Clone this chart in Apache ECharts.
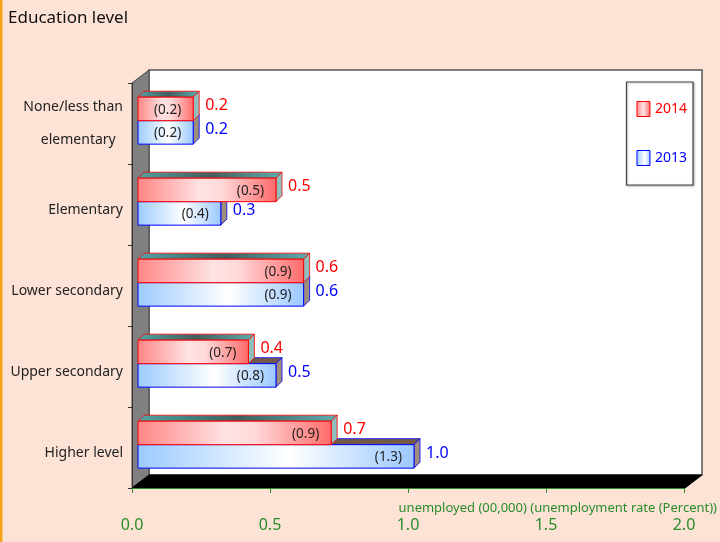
<!DOCTYPE html>
<html><head><meta charset="utf-8">
<script src="https://cdn.jsdelivr.net/npm/echarts@6/dist/echarts.min.js"></script>
<style>html,body{margin:0;padding:0;background:#fde3d6;}#c{width:720px;height:542px;}</style>
</head><body><div id="c"></div>
<script>
const categories = ['Higher level','Upper secondary','Lower secondary','Elementary','None/less than\nelementary  '];
const unemployed2014 = [0.7, 0.4, 0.6, 0.5, 0.2];
const rate2014 = [0.9, 0.7, 0.9, 0.5, 0.2];
const unemployed2013 = [1.0, 0.5, 0.6, 0.3, 0.2];
const rate2013 = [1.3, 0.8, 0.9, 0.4, 0.2];
const xTicks = {min: 0, max: 2, interval: 0.5};

const FONT = 'Noto Sans';
const GL = 132, GR = 685, GT = 83, GB = 488; // grid edges
const WX = 17, WY = 13; // wall depth
const D = 6; // bar depth
const LG = echarts.graphic.LinearGradient;

const styles = {
  '2014': {
    front: () => new LG(0,0,1,0,[{offset:0,color:'#ff8585'},{offset:0.45,color:'#ffe2e2'},{offset:0.6,color:'#ffdada'},{offset:1,color:'#ff6a6a'}]),
    top: () => new LG(0,0,1,0,[{offset:0,color:'#4fa3a3'},{offset:0.5,color:'#415e5e'},{offset:1,color:'#5aaeae'}]),
    side: '#8fbfbf', stroke: '#ff0000', text: '#ff0000', upper: true
  },
  '2013': {
    front: () => new LG(0,0,1,0,[{offset:0,color:'#9ccbff'},{offset:0.55,color:'#ffffff'},{offset:1,color:'#9ac8ff'}]),
    top: () => new LG(0,0,1,0,[{offset:0,color:'#735a48'},{offset:1,color:'#735a48'}]),
    side: '#a08e7c', stroke: '#0000ff', text: '#0000ff', upper: false
  }
};

function makeRender(key) {
  const s = styles[key];
  return function(params, api) {
    const v = api.value(0), cat = api.value(1), r = api.value(2);
    const p0 = api.coord([0, cat]);
    const p1 = api.coord([v, cat]);
    const band = api.size([0, 1])[1];
    const h = band * 0.29;
    const cy = p0[1] - band * 0.035;
    const yTop = s.upper ? cy - h : cy;
    const x0 = p0[0] + D, x1 = p1[0] + D;
    return {
      type: 'group',
      children: [
        {type:'polygon', shape:{points:[[x0,yTop],[x0+D,yTop-D],[x1+D,yTop-D],[x1,yTop]]},
          style:{fill:s.top(), stroke:s.stroke, lineWidth:0.8}},
        {type:'polygon', shape:{points:[[x1,yTop],[x1+D,yTop-D],[x1+D,yTop+h-D],[x1,yTop+h]]},
          style:{fill:s.side, stroke:s.stroke, lineWidth:0.8}},
        {type:'rect', shape:{x:x0, y:yTop, width:x1-x0, height:h},
          style:{fill:s.front(), stroke:s.stroke, lineWidth:1}},
        {type:'text', style:{text:'(' + r.toFixed(1) + ')', x:x1-12, y:yTop+h/2+1, align:'right', verticalAlign:'middle',
          fill:'#222', font:'13.5px "' + FONT + '"'}},
        {type:'text', style:{text:v.toFixed(1), x:x1+D+6, y:yTop+h/2-3, align:'left', verticalAlign:'middle',
          fill:s.text, font:'16px "' + FONT + '"'}}
      ]
    };
  };
}

const catData = categories.map((c, i) => i === categories.length - 1
  ? {value: c, textStyle: {verticalAlign: 'middle', lineHeight: 33}}
  : c);

const chart = echarts.init(document.getElementById('c'));
chart.setOption({
  backgroundColor: '#fde3d6',
  animation: false,
  textStyle: {fontFamily: FONT},
  title: {text: 'Education level', left: 8, top: 10, padding: 0, textStyle: {fontSize: 17, fontWeight: 'normal', color: '#111', fontFamily: FONT}},
  grid: {left: GL, right: 720 - GR, top: GT, bottom: 542 - GB},
  legend: {
    orient: 'vertical', right: 27, top: 82, width: 50,
    padding: [19, 6, 19, 10], itemGap: 33, itemWidth: 13, itemHeight: 15,
    backgroundColor: '#ffffff', borderColor: '#444', borderWidth: 1.2,
    shadowColor: 'rgba(0,0,0,0.25)', shadowOffsetX: 1, shadowOffsetY: 1, shadowBlur: 2,
    textStyle: {fontSize: 14, fontFamily: FONT},
    data: [
      {name: '2014', icon: 'rect', itemStyle: {color: new LG(0,0,1,0,[{offset:0,color:'#ff8a8a'},{offset:0.5,color:'#ffe4e4'},{offset:1,color:'#ff6e6e'}]), borderColor: '#ff0000', borderWidth: 1}, textStyle: {color: '#ff0000'}},
      {name: '2013', icon: 'rect', itemStyle: {color: new LG(0,0,1,0,[{offset:0,color:'#9ccbff'},{offset:0.6,color:'#ffffff'},{offset:1,color:'#9ac8ff'}]), borderColor: '#0000ff', borderWidth: 1}, textStyle: {color: '#0000ff'}}
    ]
  },
  xAxis: {
    type: 'value', min: xTicks.min, max: xTicks.max, interval: xTicks.interval, z: 5,
    name: 'unemployed (00,000) (unemployment rate (Percent))', nameLocation: 'end', nameGap: 718 - GR,
    nameTextStyle: {align: 'right', verticalAlign: 'top', padding: [14, 0, 0, 0], fontSize: 13, color: '#2a8c2a', fontFamily: FONT},
    axisLine: {show: true, lineStyle: {color: '#2a8c2a', width: 1}},
    axisTick: {show: true, length: 5, lineStyle: {color: '#2a8c2a'}},
    axisLabel: {margin: 29, fontSize: 16, color: '#2a8c2a', fontFamily: FONT, formatter: v => v.toFixed(1)},
    splitLine: {show: false}
  },
  yAxis: {
    type: 'category', data: catData, z: 5,
    axisLine: {show: true, lineStyle: {color: '#333', width: 1}},
    axisTick: {show: true, length: 4, lineStyle: {color: '#333'}},
    axisLabel: {margin: 9, fontSize: 14, color: '#222', verticalAlign: 'top', lineHeight: 12, fontFamily: FONT}
  },
  graphic: [
    {type: 'rect', z: -10, shape: {x: 0, y: 0, width: 2.5, height: 542}, style: {fill: '#f5a31a'}},
    {type: 'rect', z: -10, shape: {x: GL + WX, y: GT - WY, width: GR - GL, height: GB - GT},
      style: {fill: '#ffffff', stroke: '#555', lineWidth: 1.5}},
    {type: 'polygon', z: -9, shape: {points: [[GL, GT], [GL + WX, GT - WY], [GL + WX, GB - WY], [GL, GB]]},
      style: {fill: '#808080', stroke: '#444', lineWidth: 1}},
    {type: 'polygon', z: -9, shape: {points: [[GL, GB], [GL + WX, GB - WY], [GR + WX, GB - WY], [GR, GB]]},
      style: {fill: '#000000', stroke: '#000', lineWidth: 1}}
  ],
  series: [
    {name: '2013', type: 'custom', renderItem: makeRender('2013'), encode: {x: 0, y: 1},
      itemStyle: {color: '#9ccbff'}, z: 2,
      data: unemployed2013.map((v, i) => [v, i, rate2013[i]])},
    {name: '2014', type: 'custom', renderItem: makeRender('2014'), encode: {x: 0, y: 1},
      itemStyle: {color: '#ff8a8a'}, z: 3,
      data: unemployed2014.map((v, i) => [v, i, rate2014[i]])}
  ]
});
</script></body></html>
